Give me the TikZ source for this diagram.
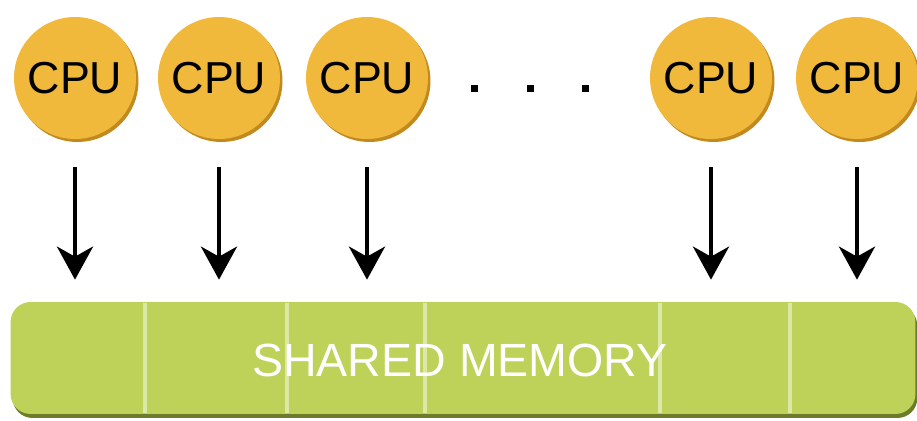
\documentclass[tikz,border=0pt]{standalone}
\usepackage{fontspec}
\setmainfont{Liberation Sans}
\usetikzlibrary{arrows.meta,shadows}

\definecolor{cpuyellow}{HTML}{F0B93B}
\definecolor{cpuedge}{HTML}{C28A1E}
\definecolor{memgreen}{HTML}{BED25A}
\definecolor{memshade}{HTML}{6C7C2A}
\definecolor{memline}{HTML}{DCE8A8}

\tikzset{
  cpu/.style={circle, minimum size=2.44cm, inner sep=0pt, fill=cpuyellow,
    drop shadow={shadow xshift=0.05cm, shadow yshift=-0.06cm, fill=cpuedge, opacity=1},
    font=\fontsize{25.5}{25.5}\selectfont},
  memory/.style={rectangle, rounded corners=0.4cm, minimum width=18.1cm,
    minimum height=2.24cm, inner sep=0pt, fill=memgreen,
    drop shadow={shadow xshift=0.04cm, shadow yshift=-0.08cm, fill=memshade, opacity=1}},
  link/.style={-{Stealth[length=0.66cm, width=0.72cm, inset=0.2cm]},
    line width=0.09cm, shorten <=0.56cm, shorten >=0.44cm},
  divider/.style={memline, line width=0.07cm}
}

\begin{document}
\begin{tikzpicture}[x=0.02cm, y=-0.02cm]
\useasboundingbox (0,0) rectangle (917,421);

% Processors
\node[cpu] (cpu1) at (75,78) {CPU};
\node[cpu] (cpu2) at (219,78) {CPU};
\node[cpu] (cpu3) at (367,78) {CPU};
\node[cpu] (cpu4) at (711,78) {CPU};
\node[cpu] (cpu5) at (857,78) {CPU};

% Dots
\foreach \x in {474,530,585}
  \fill (\x-3.5,85) rectangle (\x+3.5,92);

% Shared memory
\node[memory] (mem) at (463,358) {};
\foreach \x in {145,287,425,660,790}
  \draw[divider] (\x,303) -- (\x,413);
\node[text=white, font=\fontsize{26.5}{26.5}\selectfont] (memlabel) at (460,360) {SHARED MEMORY};

% Arrows
\foreach \i in {1,...,5}
  \draw[link] (cpu\i) -- (cpu\i |- mem.north);

\end{tikzpicture}
\end{document}
